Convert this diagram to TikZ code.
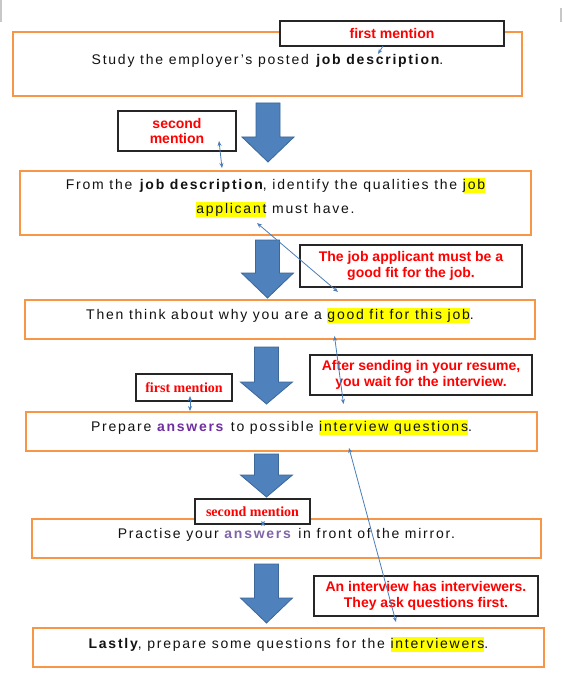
\documentclass[tikz,border=0pt]{standalone}
\usepackage{fontspec}
\setmainfont{Liberation Sans}
\newfontfamily\boxfont[LetterSpace=12.5]{Liberation Sans}
\newfontfamily\serifbold{Liberation Serif}
\usetikzlibrary{arrows.meta}
\definecolor{boxorange}{HTML}{F79646}
\definecolor{arrowblue}{HTML}{4F81BD}
\definecolor{arrowedge}{HTML}{3C6796}
\definecolor{linkblue}{HTML}{4A7EBB}
\definecolor{labelred}{HTML}{FF0000}
\definecolor{txt}{HTML}{121212}
\definecolor{hlyellow}{HTML}{FFFF00}
\definecolor{purp}{HTML}{7030A0}
\definecolor{purptwo}{HTML}{8066A8}
\definecolor{cornergray}{HTML}{C8C8C8}
\newcommand\hl[1]{{\setlength\fboxsep{0pt}\colorbox{hlyellow}{\rule[-3.5pt]{0pt}{14.5pt}#1}}}
\newcommand\blockarrow[4]{\path[bigarrow] (#1-12,#2) -- (#1+12,#2) -- (#1+12,#3) -- (#1+26,#3) -- (#1,#4) -- (#1-26,#3) -- (#1-12,#3) -- cycle;}
\tikzset{
  stepbox/.style={draw=boxorange, line width=2pt, fill=white, inner sep=0pt},
  maintext/.style={font=\boxfont\fontsize{14pt}{17pt}\selectfont, text=txt, anchor=base, inner sep=0pt},
  labelbox/.style={draw=black!85, line width=1.2pt, fill=white, inner sep=0pt, align=center, text=labelred,
    font=\bfseries\fontsize{14pt}{15.5pt}\selectfont},
  seriflabel/.style={labelbox, font=\serifbold\bfseries\fontsize{14pt}{16pt}\selectfont},
  bigarrow/.style={fill=arrowblue, draw=arrowedge, line width=0.8pt, line join=miter},
  link/.style={draw=linkblue, line width=0.8pt, {Stealth[length=5pt,width=4pt]}-{Stealth[length=5pt,width=4pt]}},
  linkone/.style={draw=linkblue, line width=0.8pt, -{Stealth[length=5pt,width=4pt]}},
}
\begin{document}
\begin{tikzpicture}[x=1pt,y=-1pt]
\useasboundingbox (0,0) rectangle (564,687);
\fill[white] (0,0) rectangle (564,687);
\draw[cornergray, line width=1.5pt] (1,0) -- (1,22);
\draw[cornergray, line width=1.5pt] (561,8) -- (561,22);

% step boxes
\node[stepbox, minimum width=509pt, minimum height=64pt] (b1) at (267.5,64) {};
\node[stepbox, minimum width=511pt, minimum height=64pt] (b2) at (275.5,203) {};
\node[stepbox, minimum width=510pt, minimum height=39pt] (b3) at (280,319.5) {};
\node[stepbox, minimum width=511pt, minimum height=39pt] (b4) at (281.5,431.5) {};
\node[stepbox, minimum width=509pt, minimum height=39pt] (b5) at (286.5,538.5) {};
\node[stepbox, minimum width=511pt, minimum height=39pt] (b6) at (288.5,647.5) {};

% step texts
\node[maintext] (t1) at (267.5,65) {Study the employer’s posted \textbf{job description}.};
\node[maintext] (t2a) at (275.5,189) {From the \textbf{job description}, identify the qualities the \hl{job}};
\node[maintext] (t2b) at (275.5,213) {\hl{applicant} must have.};
\node[maintext] (t3) at (280,319) {Then think about why you are a \hl{good fit for this job}.};
\node[maintext] (t4) at (281.5,431) {Prepare \textcolor{purp}{\textbf{answers}} to possible \hl{interview questions}.};
\node[maintext] (t5) at (286.5,538) {Practise your \textcolor{purptwo}{\textbf{answers}} in front of the mirror.};
\node[maintext] (t6) at (288.5,648) {\textbf{Lastly}, prepare some questions for the \hl{interviewers}.};

% block arrows
\blockarrow{268}{103}{137}{162}
\blockarrow{267.5}{240}{273}{298}
\blockarrow{266.5}{347}{382}{404}
\blockarrow{266.5}{454}{475}{497}
\blockarrow{266.5}{564}{598}{623}

% label boxes
\node[labelbox, minimum width=224pt, minimum height=25pt] (l1) at (392,33.5) {first mention};
\node[labelbox, minimum width=118pt, minimum height=40pt] (l2) at (177,131) {second\\mention};
\node[labelbox, minimum width=222pt, minimum height=42pt] (l3) at (411,266) {The job applicant must be a\\good fit for the job.};
\node[labelbox, minimum width=222pt, minimum height=40pt] (l4) at (421,375) {After sending in your resume,\\you wait for the interview.};
\node[seriflabel, minimum width=96pt, minimum height=27pt] (l5) at (184,387.5) {first mention};
\node[seriflabel, minimum width=115pt, minimum height=25pt] (l6) at (252.5,511.5) {second mention};
\node[labelbox, minimum width=224pt, minimum height=40pt] (l7) at (426,596) {An interview has interviewers.\\They ask questions first.};

% connector end points
\coordinate (c1a) at (383,46);   \coordinate (c1b) at (378,54);
\coordinate (c2a) at (219,141);  \coordinate (c2b) at (222,168);
\coordinate (c3a) at (257,223);  \coordinate (c3b) at (338,292);
\coordinate (c4a) at (334.5,336);\coordinate (c4b) at (343.5,404);
\coordinate (c5a) at (190,396);  \coordinate (c5b) at (190,411);
\coordinate (c6a) at (349,448);  \coordinate (c6b) at (396,622);
\coordinate (c7a) at (263,521);  \coordinate (c7b) at (263,526);

\draw[linkone] (c1a) -- (c1b);
\draw[link] (c2a) -- (c2b);
\draw[link] (c3a) -- (c3b);
\draw[link] (c4a) -- (c4b);
\draw[link] (c5a) -- (c5b);
\draw[link] (c6a) -- (c6b);
\draw[link] (c7a) -- (c7b);
\end{tikzpicture}
\end{document}
